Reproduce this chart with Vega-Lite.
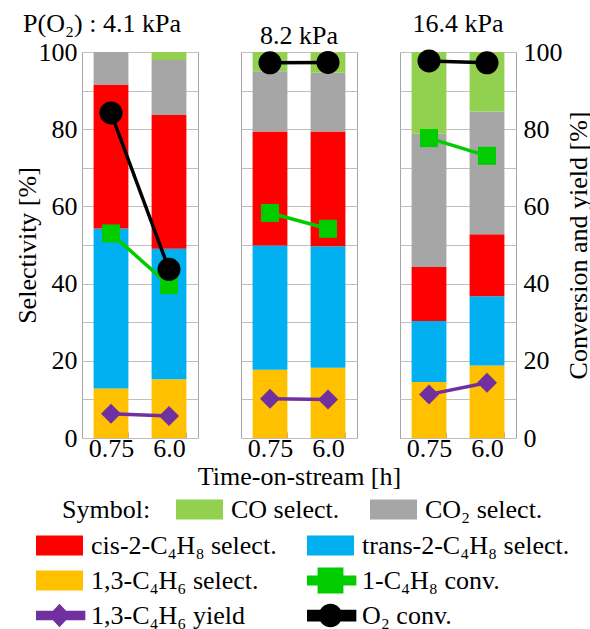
{
  "$schema": "https://vega.github.io/schema/vega-lite/v6.json",
  "padding": {"left": 13, "top": 10, "right": 0, "bottom": 0},
  "bounds": "flush",
  "spacing": 43,
  "datasets": {
    "bars": [
      {"p": "4.1", "t": "0.75", "s": "1,3-C₄H₆ select.", "v": 12.8},
      {"p": "4.1", "t": "0.75", "s": "trans-2-C₄H₈ select.", "v": 41.5},
      {"p": "4.1", "t": "0.75", "s": "cis-2-C₄H₈ select.", "v": 37.3},
      {"p": "4.1", "t": "0.75", "s": "CO₂ select.", "v": 8.4},
      {"p": "4.1", "t": "0.75", "s": "CO select.", "v": 0},
      {"p": "4.1", "t": "6.0", "s": "1,3-C₄H₆ select.", "v": 15.2},
      {"p": "4.1", "t": "6.0", "s": "trans-2-C₄H₈ select.", "v": 33.8},
      {"p": "4.1", "t": "6.0", "s": "cis-2-C₄H₈ select.", "v": 34.7},
      {"p": "4.1", "t": "6.0", "s": "CO₂ select.", "v": 14.2},
      {"p": "4.1", "t": "6.0", "s": "CO select.", "v": 2.1},
      {"p": "8.2", "t": "0.75", "s": "1,3-C₄H₆ select.", "v": 17.7},
      {"p": "8.2", "t": "0.75", "s": "trans-2-C₄H₈ select.", "v": 32.2},
      {"p": "8.2", "t": "0.75", "s": "cis-2-C₄H₈ select.", "v": 29.5},
      {"p": "8.2", "t": "0.75", "s": "CO₂ select.", "v": 15.6},
      {"p": "8.2", "t": "0.75", "s": "CO select.", "v": 5.0},
      {"p": "8.2", "t": "6.0", "s": "1,3-C₄H₆ select.", "v": 18.2},
      {"p": "8.2", "t": "6.0", "s": "trans-2-C₄H₈ select.", "v": 31.5},
      {"p": "8.2", "t": "6.0", "s": "cis-2-C₄H₈ select.", "v": 29.7},
      {"p": "8.2", "t": "6.0", "s": "CO₂ select.", "v": 15.2},
      {"p": "8.2", "t": "6.0", "s": "CO select.", "v": 5.4},
      {"p": "16.4", "t": "0.75", "s": "1,3-C₄H₆ select.", "v": 14.5},
      {"p": "16.4", "t": "0.75", "s": "trans-2-C₄H₈ select.", "v": 15.8},
      {"p": "16.4", "t": "0.75", "s": "cis-2-C₄H₈ select.", "v": 14.0},
      {"p": "16.4", "t": "0.75", "s": "CO₂ select.", "v": 34.5},
      {"p": "16.4", "t": "0.75", "s": "CO select.", "v": 21.2},
      {"p": "16.4", "t": "6.0", "s": "1,3-C₄H₆ select.", "v": 18.8},
      {"p": "16.4", "t": "6.0", "s": "trans-2-C₄H₈ select.", "v": 17.9},
      {"p": "16.4", "t": "6.0", "s": "cis-2-C₄H₈ select.", "v": 16.1},
      {"p": "16.4", "t": "6.0", "s": "CO₂ select.", "v": 31.8},
      {"p": "16.4", "t": "6.0", "s": "CO select.", "v": 15.4}
    ],
    "lines": [
      {"p": "4.1", "t": "0.75", "s": "1,3-C₄H₆ yield", "v": 6.3},
      {"p": "4.1", "t": "6.0", "s": "1,3-C₄H₆ yield", "v": 5.7},
      {"p": "4.1", "t": "0.75", "s": "1-C₄H₈ conv.", "v": 53.0},
      {"p": "4.1", "t": "6.0", "s": "1-C₄H₈ conv.", "v": 39.6},
      {"p": "4.1", "t": "0.75", "s": "O₂ conv.", "v": 84.2},
      {"p": "4.1", "t": "6.0", "s": "O₂ conv.", "v": 43.7},
      {"p": "8.2", "t": "0.75", "s": "1,3-C₄H₆ yield", "v": 10.2},
      {"p": "8.2", "t": "6.0", "s": "1,3-C₄H₆ yield", "v": 10.0},
      {"p": "8.2", "t": "0.75", "s": "1-C₄H₈ conv.", "v": 58.3},
      {"p": "8.2", "t": "6.0", "s": "1-C₄H₈ conv.", "v": 54.2},
      {"p": "8.2", "t": "0.75", "s": "O₂ conv.", "v": 97.2},
      {"p": "8.2", "t": "6.0", "s": "O₂ conv.", "v": 97.3},
      {"p": "16.4", "t": "0.75", "s": "1,3-C₄H₆ yield", "v": 11.3},
      {"p": "16.4", "t": "6.0", "s": "1,3-C₄H₆ yield", "v": 14.3},
      {"p": "16.4", "t": "0.75", "s": "1-C₄H₈ conv.", "v": 77.7},
      {"p": "16.4", "t": "6.0", "s": "1-C₄H₈ conv.", "v": 73.1},
      {"p": "16.4", "t": "0.75", "s": "O₂ conv.", "v": 97.7},
      {"p": "16.4", "t": "6.0", "s": "O₂ conv.", "v": 97.2}
    ]
  },
  "hconcat": [
    {
      "title": {"text": "P(O₂) : 4.1 kPa", "dx": -38},
      "width": 116,
      "height": 386,
      "encoding": {
        "x": {"field": "t", "type": "ordinal", "sort": null,
              "scale": {"domain": ["0.75", "6.0"], "paddingInner": 0.4, "paddingOuter": 0.2},
              "axis": {"title": null, "labelAngle": 0, "labelPadding": 3, "ticks": true, "tickBand": "extent", "tickSize": -6, "tickColor": "#a6a6a6"}}
      },
      "layer": [
        {
          "data": {"name": "bars"},
          "transform": [{"filter": "datum.p == '4.1'"}, {"window": [{"op": "row_number", "as": "k"}], "groupby": ["t"]}],
          "mark": {"type": "bar"},
          "encoding": {
            "y": {"field": "v", "type": "quantitative", "stack": "zero", "scale": {"domain": [0, 100]},
                  "axis": {"title": "Selectivity [%]", "values": [0, 10, 20, 30, 40, 50, 60, 70, 80, 90, 100], "labelExpr": "datum.value % 20 == 0 ? datum.label : ''", "grid": true, "labelPadding": 5, "titlePadding": -2}},
            "fill": {"field": "s", "type": "nominal",
                     "scale": {"domain": ["1,3-C₄H₆ select.", "trans-2-C₄H₈ select.", "cis-2-C₄H₈ select.", "CO₂ select.", "CO select."], "range": ["#FFC000", "#00B0F0", "#FF0000", "#A6A6A6", "#92D050"]},
                     "legend": {"title": "Symbol:", "titleOrient": "left", "values": ["CO select.", "CO₂ select."], "columns": 2, "direction": "horizontal", "clipHeight": 27, "orient": "none", "legendX": -20, "legendY": 444, "symbolType": "M-1,-0.425H1V0.425H-1Z", "columnPadding": 30, "titlePadding": 25}},
            "order": {"field": "k", "type": "quantitative"}
          }
        },
        {
          "data": {"name": "lines"},
          "transform": [{"filter": "datum.p == '4.1'"}],
          "encoding": {
            "y": {"field": "v", "type": "quantitative", "scale": {"domain": [0, 100]}, "axis": null},
            "color": {"field": "s", "type": "nominal",
                      "scale": {"domain": ["cis-2-C₄H₈ select.", "trans-2-C₄H₈ select.", "1,3-C₄H₆ select.", "1-C₄H₈ conv.", "1,3-C₄H₆ yield", "O₂ conv."], "range": ["#FF0000", "#00B0F0", "#FFC000", "#00CC00", "#7030A0", "#000000"]},
                      "legend": {"title": null, "columns": 2, "direction": "horizontal", "clipHeight": 27, "orient": "none", "legendX": -46, "legendY": 480, "columnPadding": 30,
                                 "encode": {"symbols": {"update": {"shape": {"signal": "datum.value == '1-C₄H₈ conv.' ? 'M-1.1,-0.21H1.1V0.21H-1.1Z M-0.55,-0.55H0.55V0.55H-0.55Z' : datum.value == 'O₂ conv.' ? 'M-1.1,-0.25H1.1V0.25H-1.1Z M-0.5,0A0.5,0.5 0 1,1 0.5,0A0.5,0.5 0 1,1 -0.5,0Z' : datum.value == '1,3-C₄H₆ yield' ? 'M-1.1,-0.2H1.1V0.2H-1.1Z M0,-0.5L0.47,0L0,0.5L-0.47,0Z' : 'M-1,-0.425H1V0.425H-1Z'"}, "fill": {"scale": "color", "field": "value"}, "stroke": {"value": "transparent"}, "strokeWidth": {"value": 0}, "size": {"value": 2209}, "opacity": {"value": 1}}}}}}
          },
          "layer": [
            {"mark": {"type": "line", "strokeWidth": 3.5}},
            {"transform": [{"filter": "datum.s == '1,3-C₄H₆ yield'"}], "mark": {"type": "point", "shape": "diamond", "size": 400, "filled": true, "opacity": 1}},
            {"transform": [{"filter": "datum.s == '1-C₄H₈ conv.'"}], "mark": {"type": "point", "shape": "square", "size": 324, "filled": true, "opacity": 1}},
            {"transform": [{"filter": "datum.s == 'O₂ conv.'"}], "mark": {"type": "point", "shape": "circle", "size": 529, "filled": true, "opacity": 1}}
          ]
        }
      ],
      "resolve": {"scale": {"y": "independent"}}
    },
    {
      "title": {"text": "8.2 kPa"},
      "width": 116,
      "height": 386,
      "encoding": {
        "x": {"field": "t", "type": "ordinal", "sort": null,
              "scale": {"domain": ["0.75", "6.0"], "paddingInner": 0.4, "paddingOuter": 0.2},
              "axis": {"title": "Time-on-stream [h]", "titlePadding": 2, "labelAngle": 0, "labelPadding": 3, "ticks": true, "tickBand": "extent", "tickSize": -6, "tickColor": "#a6a6a6"}}
      },
      "layer": [
        {
          "data": {"name": "bars"},
          "transform": [{"filter": "datum.p == '8.2'"}, {"window": [{"op": "row_number", "as": "k"}], "groupby": ["t"]}],
          "mark": {"type": "bar"},
          "encoding": {
            "y": {"field": "v", "type": "quantitative", "stack": "zero", "scale": {"domain": [0, 100]},
                  "axis": {"title": null, "values": [0, 10, 20, 30, 40, 50, 60, 70, 80, 90, 100], "labels": false, "grid": true}},
            "fill": {"field": "s", "type": "nominal",
                     "scale": {"domain": ["1,3-C₄H₆ select.", "trans-2-C₄H₈ select.", "cis-2-C₄H₈ select.", "CO₂ select.", "CO select."], "range": ["#FFC000", "#00B0F0", "#FF0000", "#A6A6A6", "#92D050"]},
                     "legend": {"title": "Symbol:", "titleOrient": "left", "values": ["CO select.", "CO₂ select."], "columns": 2, "direction": "horizontal", "clipHeight": 27, "orient": "none", "legendX": -20, "legendY": 444, "symbolType": "M-1,-0.425H1V0.425H-1Z", "columnPadding": 30, "titlePadding": 25}},
            "order": {"field": "k", "type": "quantitative"}
          }
        },
        {
          "data": {"name": "lines"},
          "transform": [{"filter": "datum.p == '8.2'"}],
          "encoding": {
            "y": {"field": "v", "type": "quantitative", "scale": {"domain": [0, 100]}, "axis": null},
            "color": {"field": "s", "type": "nominal",
                      "scale": {"domain": ["cis-2-C₄H₈ select.", "trans-2-C₄H₈ select.", "1,3-C₄H₆ select.", "1-C₄H₈ conv.", "1,3-C₄H₆ yield", "O₂ conv."], "range": ["#FF0000", "#00B0F0", "#FFC000", "#00CC00", "#7030A0", "#000000"]},
                      "legend": {"title": null, "columns": 2, "direction": "horizontal", "clipHeight": 27, "orient": "none", "legendX": -46, "legendY": 480, "columnPadding": 30,
                                 "encode": {"symbols": {"update": {"shape": {"signal": "datum.value == '1-C₄H₈ conv.' ? 'M-1.1,-0.21H1.1V0.21H-1.1Z M-0.55,-0.55H0.55V0.55H-0.55Z' : datum.value == 'O₂ conv.' ? 'M-1.1,-0.25H1.1V0.25H-1.1Z M-0.5,0A0.5,0.5 0 1,1 0.5,0A0.5,0.5 0 1,1 -0.5,0Z' : datum.value == '1,3-C₄H₆ yield' ? 'M-1.1,-0.2H1.1V0.2H-1.1Z M0,-0.5L0.47,0L0,0.5L-0.47,0Z' : 'M-1,-0.425H1V0.425H-1Z'"}, "fill": {"scale": "color", "field": "value"}, "stroke": {"value": "transparent"}, "strokeWidth": {"value": 0}, "size": {"value": 2209}, "opacity": {"value": 1}}}}}}
          },
          "layer": [
            {"mark": {"type": "line", "strokeWidth": 3.5}},
            {"transform": [{"filter": "datum.s == '1,3-C₄H₆ yield'"}], "mark": {"type": "point", "shape": "diamond", "size": 400, "filled": true, "opacity": 1}},
            {"transform": [{"filter": "datum.s == '1-C₄H₈ conv.'"}], "mark": {"type": "point", "shape": "square", "size": 324, "filled": true, "opacity": 1}},
            {"transform": [{"filter": "datum.s == 'O₂ conv.'"}], "mark": {"type": "point", "shape": "circle", "size": 529, "filled": true, "opacity": 1}}
          ]
        }
      ],
      "resolve": {"scale": {"y": "independent"}}
    },
    {
      "title": {"text": "16.4 kPa"},
      "width": 116,
      "height": 386,
      "encoding": {
        "x": {"field": "t", "type": "ordinal", "sort": null,
              "scale": {"domain": ["0.75", "6.0"], "paddingInner": 0.4, "paddingOuter": 0.2},
              "axis": {"title": null, "labelAngle": 0, "labelPadding": 3, "ticks": true, "tickBand": "extent", "tickSize": -6, "tickColor": "#a6a6a6"}}
      },
      "layer": [
        {
          "data": {"name": "bars"},
          "transform": [{"filter": "datum.p == '16.4'"}, {"window": [{"op": "row_number", "as": "k"}], "groupby": ["t"]}],
          "mark": {"type": "bar"},
          "encoding": {
            "y": {"field": "v", "type": "quantitative", "stack": "zero", "scale": {"domain": [0, 100]},
                  "axis": {"title": null, "values": [0, 10, 20, 30, 40, 50, 60, 70, 80, 90, 100], "labels": false, "grid": true}},
            "fill": {"field": "s", "type": "nominal",
                     "scale": {"domain": ["1,3-C₄H₆ select.", "trans-2-C₄H₈ select.", "cis-2-C₄H₈ select.", "CO₂ select.", "CO select."], "range": ["#FFC000", "#00B0F0", "#FF0000", "#A6A6A6", "#92D050"]},
                     "legend": {"title": "Symbol:", "titleOrient": "left", "values": ["CO select.", "CO₂ select."], "columns": 2, "direction": "horizontal", "clipHeight": 27, "orient": "none", "legendX": -20, "legendY": 444, "symbolType": "M-1,-0.425H1V0.425H-1Z", "columnPadding": 30, "titlePadding": 25}},
            "order": {"field": "k", "type": "quantitative"}
          }
        },
        {
          "data": {"name": "lines"},
          "transform": [{"filter": "datum.p == '16.4'"}],
          "encoding": {
            "y": {"field": "v", "type": "quantitative", "scale": {"domain": [0, 100]},
                  "axis": {"orient": "right", "title": "Conversion and yield [%]", "titleAngle": 270, "titleBaseline": "top", "values": [0, 10, 20, 30, 40, 50, 60, 70, 80, 90, 100], "labelExpr": "datum.value % 20 == 0 ? datum.label : ''", "grid": false, "labelPadding": 7, "titlePadding": 3}},
            "color": {"field": "s", "type": "nominal",
                      "scale": {"domain": ["cis-2-C₄H₈ select.", "trans-2-C₄H₈ select.", "1,3-C₄H₆ select.", "1-C₄H₈ conv.", "1,3-C₄H₆ yield", "O₂ conv."], "range": ["#FF0000", "#00B0F0", "#FFC000", "#00CC00", "#7030A0", "#000000"]},
                      "legend": {"title": null, "columns": 2, "direction": "horizontal", "clipHeight": 27, "orient": "none", "legendX": -46, "legendY": 480, "columnPadding": 30,
                                 "encode": {"symbols": {"update": {"shape": {"signal": "datum.value == '1-C₄H₈ conv.' ? 'M-1.1,-0.21H1.1V0.21H-1.1Z M-0.55,-0.55H0.55V0.55H-0.55Z' : datum.value == 'O₂ conv.' ? 'M-1.1,-0.25H1.1V0.25H-1.1Z M-0.5,0A0.5,0.5 0 1,1 0.5,0A0.5,0.5 0 1,1 -0.5,0Z' : datum.value == '1,3-C₄H₆ yield' ? 'M-1.1,-0.2H1.1V0.2H-1.1Z M0,-0.5L0.47,0L0,0.5L-0.47,0Z' : 'M-1,-0.425H1V0.425H-1Z'"}, "fill": {"scale": "color", "field": "value"}, "stroke": {"value": "transparent"}, "strokeWidth": {"value": 0}, "size": {"value": 2209}, "opacity": {"value": 1}}}}}}
          },
          "layer": [
            {"mark": {"type": "line", "strokeWidth": 3.5}},
            {"transform": [{"filter": "datum.s == '1,3-C₄H₆ yield'"}], "mark": {"type": "point", "shape": "diamond", "size": 400, "filled": true, "opacity": 1}},
            {"transform": [{"filter": "datum.s == '1-C₄H₈ conv.'"}], "mark": {"type": "point", "shape": "square", "size": 324, "filled": true, "opacity": 1}},
            {"transform": [{"filter": "datum.s == 'O₂ conv.'"}], "mark": {"type": "point", "shape": "circle", "size": 529, "filled": true, "opacity": 1}}
          ]
        }
      ],
      "resolve": {"scale": {"y": "independent"}}
    }
  ],
  "config": {
    "font": "Liberation Serif",
    "background": "white",
    "view": {"stroke": "#a6a6a6", "strokeWidth": 1},
    "axis": {"labelFont": "Liberation Serif", "titleFont": "Liberation Serif", "labelFontSize": 26, "titleFontSize": 26, "titleFontWeight": "normal", "labelColor": "#000000", "titleColor": "#000000", "gridColor": "#bfbfbf", "gridOpacity": 1, "domain": false, "ticks": false},
    "title": {"font": "Liberation Serif", "fontSize": 26, "fontWeight": "normal", "color": "#000000", "offset": 2, "frame": "group"},
    "legend": {"labelFont": "Liberation Serif", "titleFont": "Liberation Serif", "labelFontSize": 26, "titleFontSize": 26, "titleFontWeight": "normal", "labelLimit": 400, "symbolSize": 2209, "symbolStrokeWidth": 0, "labelColor": "#000000", "titleColor": "#000000", "rowPadding": 8, "labelOffset": 8}
  }
}
